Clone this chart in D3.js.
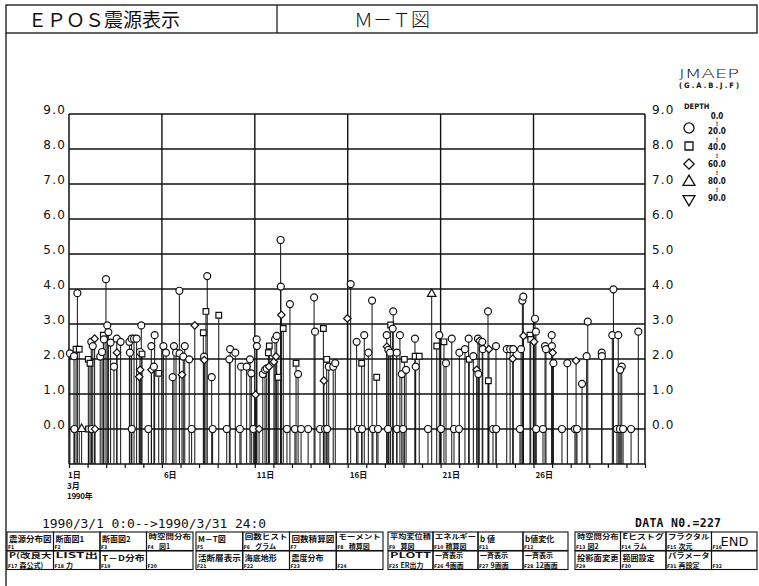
<!DOCTYPE html>
<html><head><meta charset="utf-8">
<script src="https://cdn.jsdelivr.net/npm/d3@7"></script>
<style>
html,body{margin:0;padding:0;background:#fff;}
svg{display:block;}
</style></head><body>
<svg id="c" width="759" height="586"></svg>
<script>
// ---- Event catalogue, 1990/3/1 0:00 – 1990/3/31 24:00 ----
// time in days since 1990/3/1 0:00
const eventDay = [
  0.05,0.27,0.38,0.55,0.45,1.04,1.13,1.20,1.28,1.38,1.68,1.78,1.85,1.88,1.99,2.06,2.12,2.24,2.42,2.57,
  2.58,2.78,3.25,3.28,3.37,3.50,3.64,3.82,3.89,3.83,3.78,3.93,4.43,4.44,4.61,4.57,4.83,5.08,5.22,5.58,
  5.65,5.76,5.94,5.95,6.08,6.15,6.23,6.47,6.77,7.23,7.27,7.28,7.37,7.44,7.68,8.06,8.67,8.63,8.95,9.26,
  9.56,9.74,9.81,10.04,10.10,10.11,10.43,10.55,10.64,10.73,10.78,10.76,11.03,11.09,11.18,11.14,11.25,11.39,11.40,11.43,
  11.53,11.89,12.22,12.33,13.19,13.24,13.69,13.72,13.87,13.98,14.22,14.33,14.98,15.16,15.48,15.75,15.89,16.11,16.31,16.56,
  17.10,17.11,17.19,17.28,17.31,17.45,17.42,17.64,17.81,17.91,18.05,18.14,18.62,18.63,18.66,18.85,19.52,19.79,19.93,20.18,
  20.29,20.60,21.01,21.31,21.51,21.54,21.76,21.94,22.01,22.08,22.03,22.24,22.27,22.55,22.60,22.57,22.98,23.56,23.74,23.91,
  23.88,24.33,24.40,24.45,24.46,24.81,24.85,25.08,25.13,25.03,25.62,25.67,25.98,25.99,26.03,26.07,26.82,27.29,27.61,27.86,
  27.92,28.67,28.68,29.30,29.24,29.56,29.75,29.66,30.64,
  0.29,0.68,1.05,1.22,1.40,3.38,4.27,6.60,7.73,8.49,9.20,9.92,10.23,11.73,12.16,12.49,12.87,13.51,13.78,13.89,
  15.55,15.77,16.36,16.63,17.17,17.65,17.98,19.32,20.02,20.72,20.99,22.82,22.99,24.27,25.14,25.51,26.53,27.23,27.34,29.49,
  29.65,29.82,30.25
];
// magnitude
const eventMag = [
  2.16,2.08,2.28,2.28,3.88,1.99,1.88,2.49,2.37,2.58,2.07,2.20,2.68,2.56,4.28,2.96,2.77,2.47,1.78,2.58,
  2.18,2.49,2.49,2.18,2.58,2.58,2.58,2.20,2.96,1.69,1.49,2.14,2.37,1.69,2.68,1.78,1.59,2.37,2.18,1.48,
  2.37,2.18,3.95,2.16,1.55,2.07,2.37,1.99,2.96,2.75,2.07,1.97,3.36,4.37,1.48,3.25,2.28,1.99,2.18,1.78,
  1.78,1.99,1.59,0.98,2.56,2.37,1.57,1.69,1.73,2.18,2.37,1.78,1.92,2.56,2.66,2.07,1.48,5.40,4.07,3.26,
  2.87,3.57,1.88,1.57,3.76,2.78,2.87,1.38,1.99,1.78,1.78,1.88,3.16,4.14,2.49,1.88,2.68,2.18,3.67,1.48,
  2.68,2.35,2.26,2.18,2.97,3.36,2.87,2.18,2.68,1.57,1.99,1.69,2.58,2.08,1.78,2.08,3.86,2.37,2.68,2.49,
  1.88,2.58,2.18,2.28,2.58,1.99,2.08,1.69,2.58,2.52,1.57,2.49,2.28,3.36,2.28,1.38,2.37,2.28,2.28,2.28,
  2.01,2.28,3.67,3.78,2.66,2.68,2.56,3.15,2.78,2.49,2.37,2.28,2.68,2.37,2.18,1.88,1.88,1.95,1.29,2.08,
  3.07,2.18,2.08,3.99,2.68,2.68,1.78,1.69,2.78,
  0,0,0,0,0,0,0,0,0,0,0,0,0,0,0,0,0,0,0,0,
  0,0,0,0,0,0,0,0,0,0,0,0,0,0,0,0,0,0,0,0,
  0,0,0
];
// focal depth (km)
const eventDepth = [
  10,10,30,30,10,30,30,10,10,50,10,10,30,10,10,10,10,10,10,10,
  50,10,10,10,10,10,10,10,10,50,50,30,10,50,10,10,30,10,10,10,
  10,10,10,10,50,10,10,10,50,30,10,50,30,10,10,30,10,10,10,10,
  10,10,10,50,10,10,10,10,10,30,30,50,50,10,10,50,30,10,10,50,
  30,10,30,10,10,10,30,50,30,10,10,10,50,10,10,30,10,10,10,30,
  10,50,10,10,30,10,10,10,10,10,30,10,10,30,10,30,70,30,10,30,
  10,10,10,10,10,30,10,50,10,50,10,10,10,10,50,30,10,10,10,10,
  50,10,10,10,50,30,30,10,10,50,10,10,10,10,50,10,10,50,10,10,
  10,10,10,10,10,10,10,10,10,
  10,70,30,10,50,10,10,10,10,10,10,10,50,10,10,10,10,10,10,10,
  10,10,10,10,10,10,10,10,10,10,10,10,10,10,10,10,10,10,10,10,
  10,10,10
];

// axis ticks and labels
const magTicks = [0,1,2,3,4,5,6,7,8,9];
const dayLabelDays = [1,6,11,16,21,26];
const depthBounds = ["0.0","20.0","40.0","60.0","80.0","90.0"];
const depthSymbols = ["circle","square","diamond","triangle","triangleDown"];

// function-key panel
const keyRow1 = [
  ["震源分布図"],["断面図1"],["断面図2"],["時空間分布","図1"],
  ["M－T図"],["回数ヒスト","グラム"],["回数積算図"],["モーメント","積算図"],
  ["平均変位積","算図"],["エネルギー","積算図"],["b 値"],["b値変化"],
  ["時空間分布","図2"],["Eヒストグ","ラム"],["フラクタル","次元"],["END"]
];
const keyRow2 = [
  ["P(改良大","森公式)"],["LIST出","力"],["T－D分布"],[],
  ["活断層表示"],["海底地形"],["震度分布"],[],
  ["PLOTT","ER出力"],["一斉表示","4画面"],["一斉表示","9画面"],["一斉表示","12画面"],
  ["投影面変更"],["範囲設定"],["パラメータ","再設定"],[]
];

// ---- drawing ----
const svg = d3.select("#c");
const ink = "#111";
const JP = "'Noto Sans CJK JP', sans-serif";
const plot = {left:69, right:645, top:114, bottom:464};

const x = d3.scaleLinear().domain([0,31]).range([plot.left, plot.right]);
const y = d3.scaleLinear().domain([-1,9]).range([plot.bottom, plot.top]);

// outer frame and title bar
svg.append("rect").attr("x",6).attr("y",5).attr("width",751).attr("height",28)
  .attr("fill","none").attr("stroke",ink).attr("stroke-width",1.3);
svg.append("line").attr("x1",277).attr("x2",277).attr("y1",5).attr("y2",33)
  .attr("stroke",ink).attr("stroke-width",1.2);
svg.append("line").attr("x1",6).attr("x2",6).attr("y1",33).attr("y2",586)
  .attr("stroke",ink).attr("stroke-width",1.3);
svg.append("text").attr("x",28).attr("y",27).attr("font-family",JP)
  .attr("font-size",19).attr("fill",ink).text("ＥＰＯＳ震源表示");
svg.append("text").attr("x",354).attr("y",27).attr("font-family",JP)
  .attr("font-size",19).attr("font-weight",300).attr("fill",ink).text("Ｍ－Ｔ図");

const events = eventDay.map((d,i)=>({t:d, m:eventMag[i], dep:eventDepth[i]}));

// grid
const g = svg.append("g");
g.selectAll("line.h").data(magTicks).join("line").attr("class","h")
  .attr("x1",plot.left).attr("x2",plot.right)
  .attr("y1",d=>y(d)).attr("y2",d=>y(d))
  .attr("stroke",ink).attr("stroke-width",1.6);
g.selectAll("line.v").data(dayLabelDays.slice(1)).join("line").attr("class","v")
  .attr("x1",d=>x(d-1)).attr("x2",d=>x(d-1))
  .attr("y1",plot.top).attr("y2",plot.bottom)
  .attr("stroke",ink).attr("stroke-width",1.4);

// stems
g.selectAll("line.stem").data(events).join("line").attr("class","stem")
  .attr("x1",d=>x(d.t)).attr("x2",d=>x(d.t))
  .attr("y1",d=>y(d.m)).attr("y2",y(-1))
  .attr("stroke",ink).attr("stroke-width",1);

// frame lines
[[plot.left,plot.top,plot.left,plot.bottom],[plot.right,plot.top,plot.right,plot.bottom],
 [plot.left,plot.bottom,plot.right,plot.bottom]].forEach(a=>{
  g.append("line").attr("x1",a[0]).attr("y1",a[1]).attr("x2",a[2]).attr("y2",a[3])
   .attr("stroke",ink).attr("stroke-width",1.5);
});

// symbols by depth class
function depthClass(dep){
  return dep < 20 ? 0 : dep < 40 ? 1 : dep < 60 ? 2 : dep < 80 ? 3 : 4;
}
const symType = {circle:d3.symbolCircle, square:d3.symbolSquare, diamond:d3.symbolSquare,
                 triangle:d3.symbolTriangle, triangleDown:d3.symbolTriangle};
const symRot = {circle:0, square:0, diamond:45, triangle:0, triangleDown:180};
function symPath(name, size){
  return d3.symbol().type(symType[name]).size(size)();
}
function symTransform(name, px, py){
  return `translate(${px},${py})` + (symRot[name] ? ` rotate(${symRot[name]})` : "");
}
const evSize = {circle:38, square:32, diamond:28, triangle:32, triangleDown:32};
g.selectAll("path.ev").data(events).join("path").attr("class","ev")
  .attr("d",d=>{const s=depthSymbols[depthClass(d.dep)]; return symPath(s, evSize[s]);})
  .attr("transform",d=>symTransform(depthSymbols[depthClass(d.dep)], x(d.t), y(d.m)))
  .attr("fill","#fff").attr("stroke",ink).attr("stroke-width",1.2);

// magnitude axes (left and right)
const axL = d3.axisLeft(y).tickValues(magTicks).tickFormat(d3.format(".1f")).tickSize(0).tickPadding(3);
const axR = d3.axisRight(y).tickValues(magTicks).tickFormat(d3.format(".1f")).tickSize(0).tickPadding(7);
[[axL,plot.left],[axR,plot.right]].forEach(([ax,px])=>{
  const a = svg.append("g").attr("transform",`translate(${px},0)`).call(ax);
  a.select(".domain").remove();
  a.selectAll("text").attr("font-family","'DejaVu Sans', sans-serif").attr("font-size",12)
    .attr("letter-spacing",1.2).attr("fill",ink).attr("dy","-0.05em");
});

// time axis: daily ticks
const axB = d3.axisBottom(x).tickValues(d3.range(0,32)).tickSize(4).tickFormat("");
const b = svg.append("g").attr("transform",`translate(0,${plot.bottom})`).call(axB);
b.select(".domain").remove();
b.selectAll("line").attr("stroke",ink).attr("stroke-width",1.2);

svg.selectAll("text.day").data(dayLabelDays).join("text").attr("class","day")
  .attr("x",d=>x(d-1)+ (d==1?-1:2)).attr("y",478)
  .attr("font-family",JP).attr("font-size",8).attr("font-weight",700).attr("fill",ink)
  .text(d=>d+"日");
svg.append("text").attr("x",67).attr("y",488.5).attr("font-family",JP).attr("font-size",8)
  .attr("font-weight",700).attr("fill",ink).text("3月");
svg.append("text").attr("x",67).attr("y",499).attr("font-family",JP).attr("font-size",8)
  .attr("font-weight",700).attr("letter-spacing",-0.3).attr("fill",ink).text("1990年");

// legend
svg.append("text").attr("x",679).attr("y",77.5).attr("font-family","'DejaVu Sans', sans-serif")
  .attr("font-size",13).attr("font-weight",300).attr("fill",ink)
  .attr("textLength",60).attr("lengthAdjust","spacingAndGlyphs").text("JMAEP");
svg.append("text").attr("x",679).attr("y",88).attr("font-family","'DejaVu Sans Condensed', sans-serif")
  .attr("font-size",7.5).attr("font-weight",700).attr("fill",ink).attr("textLength",60).text("(G.A.B.J.F)");
svg.append("text").attr("x",684).attr("y",109).attr("font-family","'DejaVu Sans Condensed', sans-serif")
  .attr("font-size",7.5).attr("font-weight",700).attr("fill",ink).text("DEPTH");
const lgSym = [128,146,164,182,199];
const lgSize = {circle:80, square:64, diamond:52, triangle:62, triangleDown:62};
svg.selectAll("path.lg").data(depthSymbols).join("path").attr("class","lg")
  .attr("d",d=>symPath(d, lgSize[d]))
  .attr("transform",(d,i)=>symTransform(d, 689, lgSym[i]))
  .attr("fill","#fff").attr("stroke",ink).attr("stroke-width",1.3);
const lgLabY = [119,134,150,167,184,201];
const lgLab = svg.append("g").attr("font-family","'DejaVu Sans Condensed', sans-serif")
  .attr("font-size",8).attr("font-weight",700).attr("fill",ink);
depthBounds.forEach((s,i)=>{
  lgLab.append("text").attr("x",717).attr("y",lgLabY[i]).attr("text-anchor","middle").text(s);
  if(i<5) lgLab.append("text").attr("x",717).attr("y",(lgLabY[i]+lgLabY[i+1])/2 - 0.5)
    .attr("text-anchor","middle").attr("font-size",6).text("!");
});

// period and record count
svg.append("text").attr("x",42).attr("y",528).attr("font-family","'DejaVu Sans Mono', monospace")
  .attr("font-size",13).attr("fill",ink).attr("textLength",224).text("1990/3/1 0:0-->1990/3/31 24:0");
svg.append("text").attr("x",635).attr("y",527).attr("font-family","'DejaVu Sans Mono', monospace")
  .attr("font-size",11.5).attr("font-weight",700).attr("fill",ink).attr("textLength",86).text("DATA N0.=227");

// function keys
const groupX = [7,196,388,575], groupW = [186,187,180,182];
const rowY = [532,551], rowH = 18.5;
[keyRow1,keyRow2].forEach((row,r)=>{
  row.forEach((lab,k)=>{
    const gi = Math.floor(k/4), bi = k%4, bw = groupW[gi]/4;
    const bx = groupX[gi] + bi*bw, by = rowY[r];
    const kg = svg.append("g");
    kg.append("rect").attr("x",bx).attr("y",by).attr("width",bw).attr("height",rowH)
      .attr("fill","none").attr("stroke",ink).attr("stroke-width",1.1);
    const fnum = r*16 + k + 1;
    kg.append("text").attr("x",bx+1).attr("y",by+rowH-1.5).attr("font-family","'DejaVu Sans Condensed', sans-serif")
      .attr("font-size",5).attr("font-weight",700).attr("fill",ink).text("F"+fnum);
    if(lab.length==1){
      const big = lab[0]=="END";
      const t = kg.append("text").attr("x",bx+(big?9:2)).attr("y",by+(big?14:9.5))
        .attr("font-family",big?"'DejaVu Sans', sans-serif":JP)
        .attr("font-size",big?13:8).attr("font-weight",big?400:700).attr("fill",ink).text(lab[0]);
      if(!big && lab[0].length>=5) t.attr("textLength",bw-4).attr("lengthAdjust","spacingAndGlyphs");
    } else if(lab.length==2){
      const t1 = kg.append("text").attr("x",bx+2).attr("y",by+7).attr("font-family",JP)
        .attr("font-size",7).attr("font-weight",700).attr("fill",ink).text(lab[0]);
      if(lab[0].length>=5) t1.attr("textLength",bw-4).attr("lengthAdjust","spacingAndGlyphs");
      kg.append("text").attr("x",bx+12.5).attr("y",by+17).attr("font-family",JP)
        .attr("font-size",7).attr("font-weight",700).attr("fill",ink).text(lab[1]);
    }
  });
});
</script>
</body></html>
